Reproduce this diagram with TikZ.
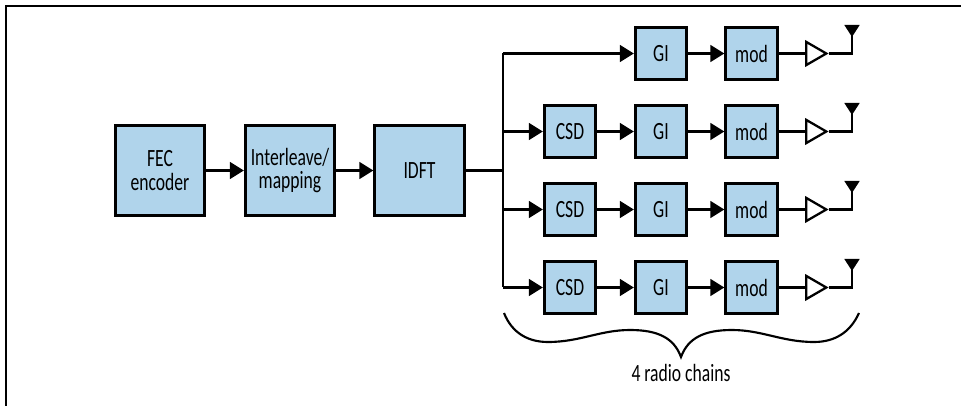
\documentclass[tikz,border=0pt]{standalone}
\usepackage{fontspec}
\setmainfont[FakeStretch=0.71]{Carlito}
\usetikzlibrary{arrows.meta,shapes.geometric}
\definecolor{boxblue}{RGB}{176,212,235}
\begin{document}
\begin{tikzpicture}[
      x=0.75pt, y=-0.75pt,
      block/.style={draw, line width=2.2pt, fill=boxblue, inner sep=0pt, align=center,
        font=\fontsize{18.6}{17.5}\selectfont},
      bigblock/.style={block, minimum size=67pt},
      smallblock/.style={block, minimum size=38.5pt},
      amp/.style={draw, line width=1.7pt, isosceles triangle, isosceles triangle apex angle=60,
        inner sep=0pt, minimum height=15pt, minimum width=17pt},
      wire/.style={line width=2pt},
      >={Triangle[length=10.5pt,width=12.5pt]}
  ]
  \useasboundingbox (0,0) rectangle (961,406);

  % Page frame
  \coordinate (frametop) at (961,6);
  \coordinate (framecorner) at (6,6);
  \coordinate (framebottom) at (6,406);
  \draw[line width=1.1pt] (frametop) -- (framecorner) -- (framebottom);

  % Common part
  \node[bigblock] (fec) at (160,170.5) {FEC\\encoder};
  \node[bigblock] (interleave) at (290,170.5) {Interleave/\\mapping};
  \node[bigblock] (idft) at (419.5,170.5) {IDFT};
  \coordinate (split) at (503,170.5);
  \draw[wire,->] (fec) -- (interleave);
  \draw[wire,->] (interleave) -- (idft);
  \draw[wire] (idft) -- (split);

  % Radio chains
  \foreach \i/\y in {1/53.5, 2/131.5, 3/209.5, 4/287.5} {
    \coordinate (bus\i) at (503,\y);
    \node[smallblock] (gi\i) at (661,\y) {GI};
    \node[smallblock] (mod\i) at (751.5,\y) {mod};
    \node[amp] (amp\i) at (813,\y) {};
    \coordinate (bend\i) at (852,\y);
    \coordinate (ant\i) at (852,\y-28.5);
    \draw[wire,->] (gi\i) -- (mod\i);
    \draw[wire] (mod\i) -- (amp\i.west);
    \draw[wire,-{Triangle[reversed,length=9pt,width=11pt]}] (amp\i.east) -- (bend\i) -- (ant\i);
  }
  \foreach \i/\y in {2/131.5, 3/209.5, 4/287.5} {
    \node[smallblock] (csd\i) at (570,\y) {CSD};
    \draw[wire,->] (bus\i) -- (csd\i);
    \draw[wire,->] (csd\i) -- (gi\i);
  }
  \draw[wire,->] (bus1) -- (gi1);
  \draw[wire] (bus1) -- (bus4);

  % Brace
  \coordinate (bracea) at (504,313);
  \coordinate (braceb) at (859,313);
  \coordinate (bracetip) at (681,357);
  \draw[line width=1.6pt] (bracea) .. controls (512,333) and (528,342) .. (548,342)
    .. controls (580,342) and (600,330) .. (630,330)
    .. controls (658,330) and (674,338) .. (bracetip)
    .. controls (688,338) and (704,330) .. (732,330)
    .. controls (762,330) and (782,342) .. (814,342)
    .. controls (834,342) and (850,333) .. (braceb);
  \node[font=\fontsize{18.6}{20}\selectfont, inner sep=0pt] (chains) at (681,373) {4 radio chains};

  \end{tikzpicture}
\end{document}
